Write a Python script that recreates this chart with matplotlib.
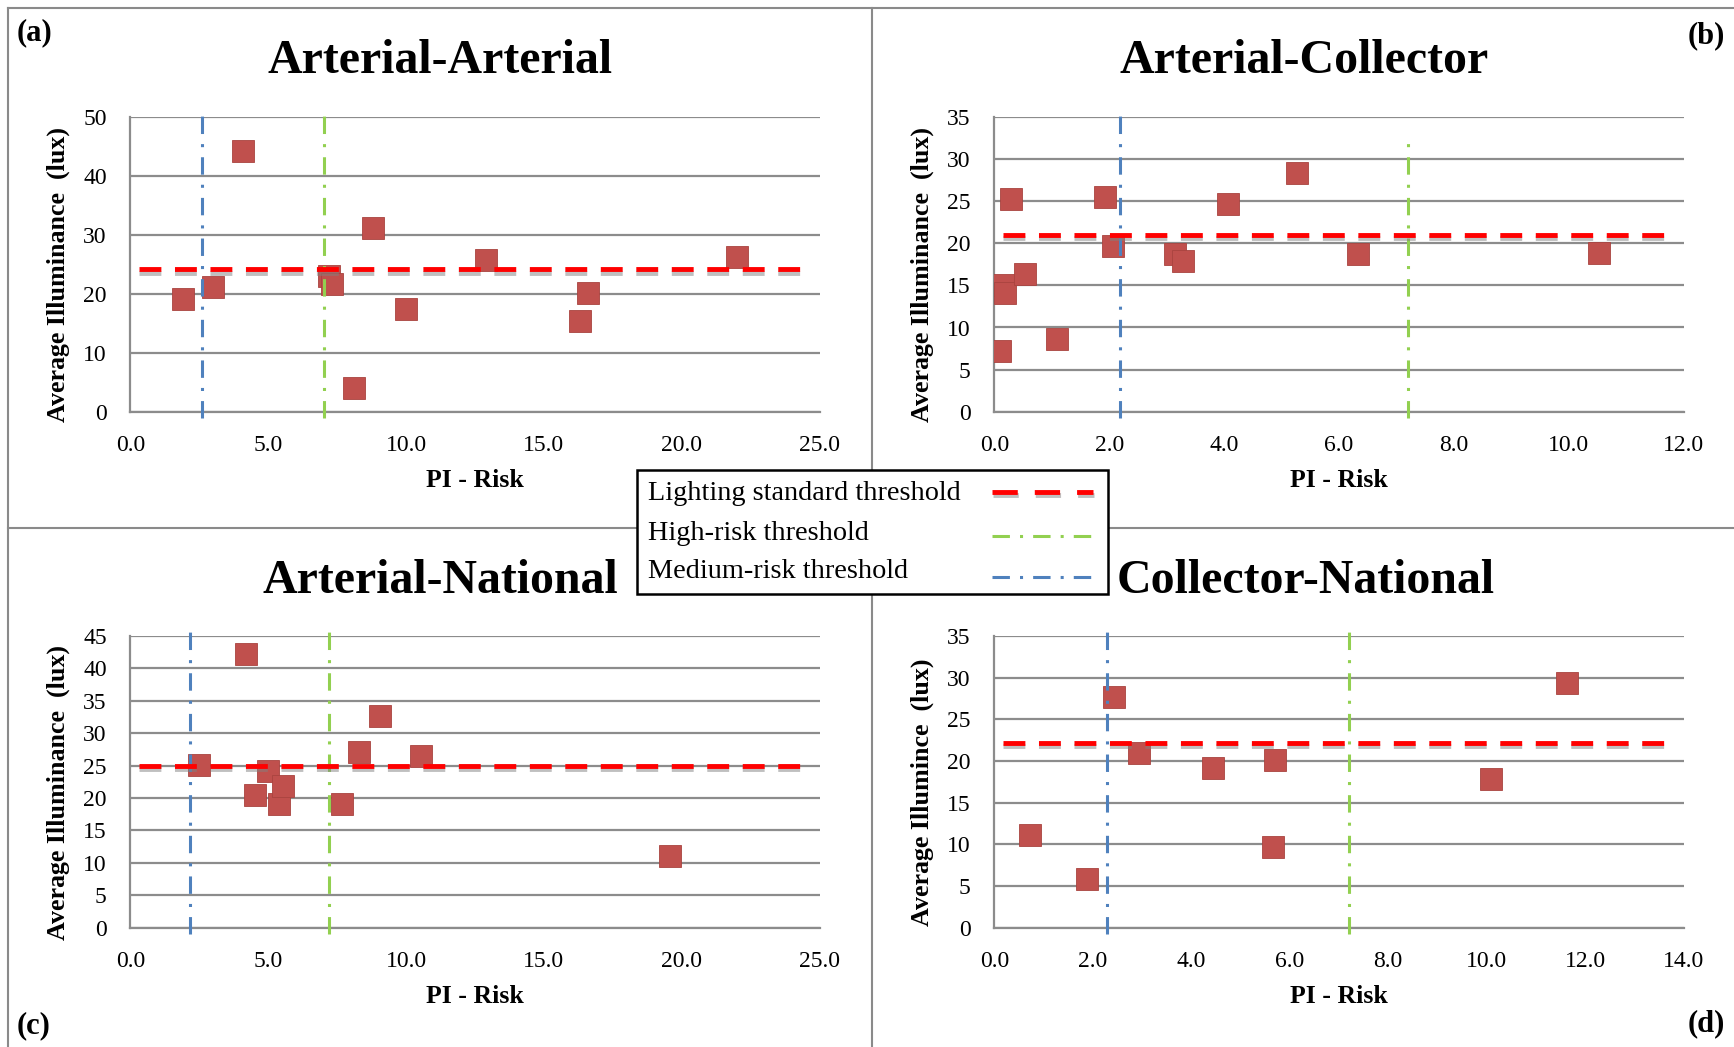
import matplotlib
matplotlib.use("Agg")
import matplotlib.pyplot as plt
import matplotlib.patheffects as pe
from matplotlib.lines import Line2D
from matplotlib.patches import Rectangle
from matplotlib.ticker import FormatStrFormatter

plt.rcParams['font.family'] = ['Liberation Serif', 'DejaVu Serif']

# --- data ---
titles = ["Arterial-Arterial", "Arterial-Collector", "Arterial-National", "Collector-National"]
letters = ["(a)", "(b)", "(c)", "(d)"]
ylabels = ["Average Illuminance  (lux)", "Average Illuminance  (lux)",
           "Average Illuminance  (lux)", "Average Illumince  (lux)"]

x_aa = [1.9, 3.0, 4.1, 7.2, 7.3, 8.1, 8.8, 10.0, 12.9, 16.3, 16.6, 22.0]
y_aa = [19.2, 21.2, 44.2, 23.0, 21.6, 4.1, 31.2, 17.5, 25.8, 15.4, 20.1, 26.3]

x_ac = [0.09, 0.17, 0.19, 0.29, 0.53, 1.09, 1.92, 2.06, 3.14, 3.29, 4.06, 5.27, 6.33, 10.53]
y_ac = [7.2, 15.0, 14.1, 25.3, 16.3, 8.6, 25.5, 19.7, 18.7, 17.9, 24.7, 28.4, 18.7, 18.8]

x_an = [2.48, 4.19, 4.51, 5.01, 5.39, 5.54, 7.69, 8.31, 9.06, 10.55, 19.57]
y_an = [25.1, 42.2, 20.4, 24.1, 19.1, 21.8, 19.1, 27.1, 32.7, 26.5, 11.0]

x_cn = [0.73, 1.88, 2.42, 2.94, 4.45, 5.65, 5.70, 10.08, 11.63]
y_cn = [11.1, 5.9, 27.7, 21.0, 19.2, 9.7, 20.1, 17.8, 29.4]

lighting = [24.2, 21.0, 25.0, 22.2]
medium_risk = [2.58, 2.19, 2.17, 2.28]
high_risk = [7.04, 7.21, 7.21, 7.21]

x_max = [25, 12, 25, 14]
x_step = [5, 2, 5, 2]
y_max = [50, 35, 45, 35]
y_step = [10, 5, 5, 5]

legend_labels = ["Lighting standard threshold", "High-risk threshold", "Medium-risk threshold"]

xs = [x_aa, x_ac, x_an, x_cn]
ys = [y_aa, y_ac, y_an, y_cn]

RED = "#FF0000"
GREEN = "#92D050"
BLUE = "#4F81BD"
MARK = "#C0504D"
GRID = "#8C8C8C"

W, H = 1734, 1047
fig = plt.figure(figsize=(W / 100, H / 100), dpi=100)


def fx(px):
    return px / W


def fy(py):
    return 1 - py / H


# panel frames
for xx, yy in [([8, W], [8, 8]), ([8, 8], [8, H]), ([872, 872], [8, H]), ([8, W], [528, 528])]:
    fig.add_artist(Line2D([fx(v) for v in xx], [fy(v) for v in yy],
                          transform=fig.transFigure, color="#8A8A8A", lw=1.5))

# axes boxes in pixels: left, right, top, bottom
boxes = [(130.4, 819.5, 117, 411.7), (994.4, 1683.5, 117, 411.7),
         (130.4, 819.5, 636, 927.7), (994.4, 1683.5, 636, 927.7)]
title_pos = [(440, 73), (1304, 73), (440, 593), (1306, 593)]
ylabel_pos = [(58, 274), (922, 274), (58, 792), (922, 792)]
letter_pos = [(17, 33, "left"), (1725, 36, "right"), (17, 1026, "left"), (1725, 1024, "right")]

shadow = [pe.SimpleLineShadow(offset=(0.5, -2.5), shadow_color="#808080", alpha=0.5), pe.Normal()]
dashdot = [5.7, 3.3, 1, 3.3]

for i in range(4):
    l, r, t, b = boxes[i]
    ax = fig.add_axes([fx(l), fy(b), (r - l) / W, (b - t) / H])
    ax.set_xlim(0, x_max[i])
    ax.set_ylim(0, y_max[i])
    ax.set_xticks(range(0, x_max[i] + 1, x_step[i]))
    ax.set_yticks(range(0, y_max[i] + 1, y_step[i]))
    ax.xaxis.set_major_formatter(FormatStrFormatter("%.1f"))
    ax.tick_params(length=0, labelsize=17, colors="black")
    ax.tick_params(axis="x", pad=17)
    ax.tick_params(axis="y", pad=17)
    for s in ["top", "right"]:
        ax.spines[s].set_visible(False)
    for s in ["left", "bottom"]:
        ax.spines[s].set_color(GRID)
        ax.spines[s].set_linewidth(1.6)
    ax.yaxis.grid(True, color=GRID, lw=1.6)
    ax.set_axisbelow(True)

    ax.plot(xs[i], ys[i], ls="none", marker="s", ms=15.5, color=MARK,
            mec="#A9433F", mew=0.6, zorder=3)

    red = ax.axhline(lighting[i], xmin=0.012, xmax=0.98, color=RED, lw=3.5, zorder=5)
    red.set_dashes([4.5, 2.8])
    red.set_path_effects(shadow)
    top_g = 0.942 if i == 1 else 1.013
    g = ax.axvline(high_risk[i], ymin=-0.02, ymax=top_g, color=GREEN, lw=2.2, clip_on=False, zorder=4)
    g.set_dashes(dashdot)
    bl = ax.axvline(medium_risk[i], ymin=-0.02, ymax=1.013, color=BLUE, lw=2.2, clip_on=False, zorder=4)
    bl.set_dashes(dashdot)

    ax.set_xlabel("PI - Risk", fontsize=18.5, fontweight="bold", labelpad=9)
    ax.set_ylabel(ylabels[i], fontsize=18.7, fontweight="bold")
    ax.yaxis.label.set_va("center")
    lxp, lyp = ylabel_pos[i]
    ax.yaxis.set_label_coords((lxp - l) / (r - l), (b - lyp) / (b - t))

    tx, ty = title_pos[i]
    fig.text(fx(tx), fy(ty), titles[i], ha="center", va="baseline",
             fontsize=34.5, fontweight="bold")
    px, py, ha = letter_pos[i]
    fig.text(fx(px), fy(py), letters[i], ha=ha, va="center", fontsize=22, fontweight="bold")

# legend box drawn by hand: text left, line sample right
fig.add_artist(Rectangle((fx(637), fy(594)), (1108 - 637) / W, (594 - 470) / H,
                         transform=fig.transFigure, facecolor="white", edgecolor="black",
                         lw=1.8, zorder=10))
text_base = [500, 540, 578]
sample_y = [492, 536, 577]
for k, lab in enumerate(legend_labels):
    fig.text(fx(648), fy(text_base[k]), lab, ha="left", va="baseline", fontsize=20.3, zorder=11)
h_red = Line2D([fx(992), fx(1093)], [fy(sample_y[0])] * 2, transform=fig.transFigure,
               color=RED, lw=3.5, dashes=[5.2, 3.5], path_effects=shadow, zorder=11)
h_green = Line2D([fx(992), fx(1093)], [fy(sample_y[1])] * 2, transform=fig.transFigure,
                 color=GREEN, lw=2.2, dashes=dashdot, zorder=11)
h_blue = Line2D([fx(992), fx(1093)], [fy(sample_y[2])] * 2, transform=fig.transFigure,
                color=BLUE, lw=2.2, dashes=dashdot, zorder=11)
for h in [h_red, h_green, h_blue]:
    fig.add_artist(h)

fig.savefig("out.png", dpi=100)
